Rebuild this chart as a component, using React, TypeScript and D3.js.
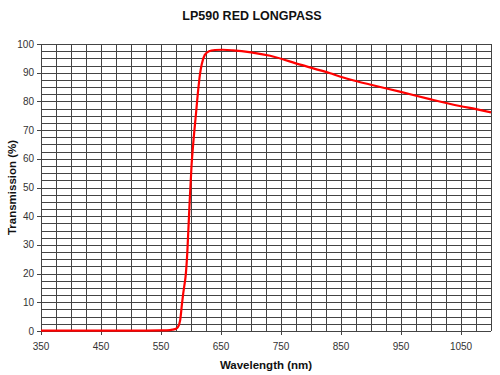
import React from "react";
import * as d3 from "d3";

const wavelengths = [350, 400, 450, 500, 550, 565, 570, 575, 578, 582, 585, 587, 589, 591, 594, 596, 598, 601, 604, 608, 612, 615, 618, 623, 630, 640, 652, 670, 700, 732, 782, 832, 848, 873, 898, 948, 998, 1048, 1075, 1100];
const transmission = [0.1, 0.1, 0.1, 0.1, 0.2, 0.3, 0.5, 0.8, 1.3, 3.8, 9.5, 13, 16, 19, 28, 37, 46, 58, 66, 75, 84, 89.5, 93, 96.2, 97.5, 97.9, 98, 97.8, 97.1, 95.9, 92.8, 89.8, 88.7, 87.2, 85.9, 83.4, 80.8, 78.4, 77.3, 76.2];
const xTickLabels = [350, 450, 550, 650, 750, 850, 950, 1050];
const yTickLabels = [0, 10, 20, 30, 40, 50, 60, 70, 80, 90, 100];

const W = 500, H = 375;
const L = 41, R = 491, T = 44, B = 331;

export default function App() {
  const x = d3.scaleLinear().domain([350, 1100]).range([L, R]);
  const y = d3.scaleLinear().domain([0, 100]).range([B, T]);
  const vGrid = d3.range(350, 1100.1, 25);
  const hGrid = d3.range(0, 100.1, 2.5);
  const data = wavelengths.map((w, i) => [w, transmission[i]] as [number, number]);
  const line = d3.line<[number, number]>().x(d => x(d[0])).y(d => y(d[1])).curve(d3.curveMonotoneX);
  const font = "Liberation Sans, Arial, sans-serif";
  return (
    <svg width={W} height={H} style={{ position: "absolute", left: 0, top: 0, background: "#fff" }}>
      <text x={252} y={20} textAnchor="middle" fontFamily={font} fontWeight="bold" fontSize={12.5} fill="#111">LP590 RED LONGPASS</text>
      <g stroke="#444" strokeWidth={1} shapeRendering="crispEdges">
        {vGrid.map(v => <line key={"v" + v} x1={Math.round(x(v)) + 0.5} x2={Math.round(x(v)) + 0.5} y1={T} y2={B} />)}
        {hGrid.map(v => <line key={"h" + v} x1={L} x2={R} y1={Math.round(y(v)) + 0.5} y2={Math.round(y(v)) + 0.5} />)}
        {yTickLabels.map(v => <line key={"yt" + v} x1={L - 4} x2={L} y1={Math.round(y(v)) + 0.5} y2={Math.round(y(v)) + 0.5} />)}
        {xTickLabels.map(v => <line key={"xt" + v} x1={Math.round(x(v)) + 0.5} x2={Math.round(x(v)) + 0.5} y1={B} y2={B + 4} />)}
      </g>
      <path d={line(data) || ""} fill="none" stroke="#ff0000" strokeWidth={2.2} />
      {yTickLabels.map(v => (
        <text key={"yl" + v} x={L - 7} y={y(v) + 3.5} textAnchor="end" fontFamily={font} fontSize={10} fill="#333">{v}</text>
      ))}
      {xTickLabels.map(v => (
        <text key={"xl" + v} x={x(v)} y={350} textAnchor="middle" fontFamily={font} fontSize={10} fill="#333">{v}</text>
      ))}
      <text x={266} y={369} textAnchor="middle" fontFamily={font} fontWeight="bold" fontSize={11.5} fill="#111">Wavelength (nm)</text>
      <text transform={`translate(16,${(T + B) / 2}) rotate(-90)`} textAnchor="middle" fontFamily={font} fontWeight="bold" fontSize={11.5} fill="#111">Transmission (%)</text>
    </svg>
  );
}
